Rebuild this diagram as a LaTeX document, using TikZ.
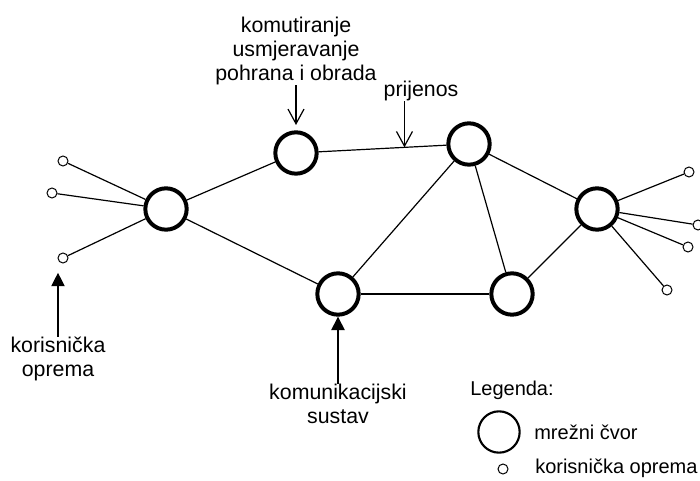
\documentclass[tikz,border=0pt]{standalone}
\usepackage{fontspec}
\setmainfont{Liberation Sans}
\usepackage{tikz}
\usetikzlibrary{positioning,arrows.meta}

\begin{document}
\begin{tikzpicture}[x=0.75pt,y=-0.75pt,
	cvor/.style={circle,draw,line width=3pt,minimum size=31pt,inner sep=0pt},
	oprema/.style={circle,draw,line width=0.75pt,minimum size=7.5pt,inner sep=0pt},
	veza/.style={line width=0.9pt},
	opis/.style={align=center,inner sep=0pt,font=\fontsize{16}{18}\selectfont},
	legopis/.style={inner sep=0pt,font=\fontsize{15}{18}\selectfont},
	otvorena/.style={-{Straight Barb[length=11pt,width=12pt]},line width=0.9pt},
	puna/.style={-{Triangle[length=10pt,width=10pt]},line width=0.9pt}]
	\useasboundingbox (0,0) rectangle (700,481);
	\node[cvor] (a) at (166,209) {};
	\node[cvor] (b) at (296,153) {};
	\node[cvor] (c) at (469,144) {};
	\node[cvor] (d) at (597,209) {};
	\node[cvor] (e) at (338,294) {};
	\node[cvor] (f) at (512,294) {};
	\node[oprema] (u1) at (63,161) {};
	\node[oprema] (u2) at (52,193) {};
	\node[oprema] (u3) at (63,258) {};
	\node[oprema] (u4) at (689,172) {};
	\node[oprema] (u5) at (698,225) {};
	\node[oprema] (u6) at (688,247) {};
	\node[oprema] (u7) at (667,290) {};
	\draw[veza] (a) -- (b);
	\draw[veza] (a) -- (e);
	\draw[veza] (b) -- (c) coordinate[pos=0.672] (prij);
	\draw[veza] (c) -- (e);
	\draw[veza] (c) -- (f);
	\draw[veza] (c) -- (d);
	\draw[veza] (e) -- (f);
	\draw[veza] (f) -- (d);
	\draw[veza] (a) -- (u1);
	\draw[veza] (a) -- (u2);
	\draw[veza] (a) -- (u3);
	\draw[veza] (d) -- (u4);
	\draw[veza] (d) -- (u5);
	\draw[veza] (d) -- (u6);
	\draw[veza] (d) -- (u7);
	\node[opis] (komut) at (296,51) {komutiranje\\usmjeravanje\\pohrana i obrada};
	\node[opis] (prijenos) at (421,91) {prijenos};
	\node[opis] (korlab) at (58,359) {korisnička\\oprema};
	\node[opis] (komlab) at (338,404) {komunikacijski\\sustav};
	\draw[otvorena,shorten >=4pt] (komut.south) -- (b.north);
	\draw[otvorena] (prij |- prijenos.south) -- (prij);
	\draw[puna,shorten >=7pt] (korlab.north) -- (korlab.north |- u3.south);
	\draw[puna] (komlab.north) -- (e.south);
	\node[legopis,anchor=west] (legenda) at (470,390) {Legenda:};
	\node[cvor,line width=1.6pt] (lcvor) at (499,432) {};
	\node[legopis,right=10pt of lcvor] (lcvortxt) {mrežni čvor};
	\node[oprema] (loprema) at (503,469) {};
	\node[legopis,anchor=west] (loprematxt) at (535,468) {korisnička oprema};
\end{tikzpicture}
\end{document}
